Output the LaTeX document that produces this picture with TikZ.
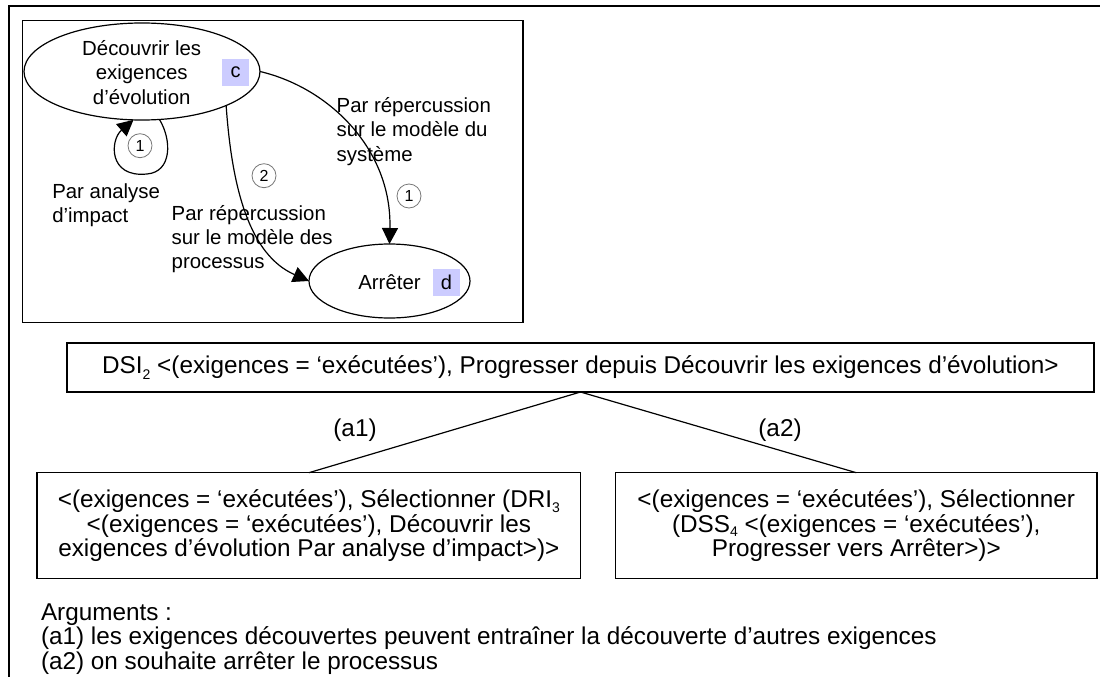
\documentclass[tikz,border=0pt]{standalone}
\usepackage{fontspec}
\setmainfont{Liberation Sans}
\usetikzlibrary{arrows.meta,shapes.geometric}
\definecolor{lav}{RGB}{204,204,255}
\definecolor{circgray}{RGB}{120,120,120}
\newcommand{\lowidx}[2][4.5pt]{\raisebox{-#1}[0pt][0pt]{\fontsize{14}{14}\selectfont #2}}
\begin{document}
\begin{tikzpicture}[x=1pt,y=-1pt,
  every node/.style={inner sep=0pt, outer sep=0pt},
  stxt/.style={font=\fontsize{20.4}{24.2}\selectfont},
  btxt/.style={font=\fontsize{24.3}{24.5}\selectfont},
  ell/.style={draw, ellipse, line width=1.2pt},
  tag/.style={fill=lav, minimum width=27pt, minimum height=26.5pt, font=\fontsize{20}{20}\selectfont},
  num/.style={draw=circgray, circle, line width=0.8pt, minimum size=24pt, font=\fontsize{16}{16}\selectfont},
  arr/.style={line width=1.2pt, -{Triangle[length=16pt,width=16pt]}},
  box/.style={draw, line width=1.2pt, btxt, align=center},
  link/.style={line width=1.2pt},
]
\useasboundingbox (0,0) rectangle (1100,677);
% outer frame
\draw[line width=2pt] (8.5,677) -- (8.5,6) -- (1100,6);
% inner frame
\draw[line width=1.5pt] (22.4,20.7) rectangle (523,322.7);

% states
\node[ell, minimum width=236pt, minimum height=97pt] (e1) at (142,71.5) {};
\node[stxt, align=center] (e1t) at (141.7,72.5) {Découvrir les\\exigences\\d’évolution};
\node[tag] (c) at (235.5,72.5) {c};
\node[ell, minimum width=161pt, minimum height=74pt] (e2) at (389.5,281) {};
\node[stxt] (e2t) at (389.5,282) {Arrêter};
\node[tag] (d) at (446.5,282.3) {d};

% transitions
\draw[arr] (e1.east) .. controls (330,88) and (392,150) .. (e2.north);
\draw[arr] (e1.-22.5) .. controls (232,190) and (250,255) .. (e2.west);
\draw[arr] (e1.-70.7) .. controls (172,140) and (172,172) .. (147,174)
   .. controls (108,178) and (110,140) .. (e1.-100.5);

% circled numbers
\node[num] (n1) at (140,145.7) {1};
\node[num] (n2) at (264,175.7) {2};
\node[num] (n3) at (409,196) {1};

% labels
\node[stxt, anchor=base west] (l1) at (52.3,198.7)
  {\begin{tabular}[t]{@{}l@{}}Par analyse\\d’impact\end{tabular}};
\node[stxt, anchor=base west] (l2) at (171.7,220.3)
  {\begin{tabular}[t]{@{}l@{}}Par répercussion\\sur le modèle des\\processus\end{tabular}};
\node[stxt, anchor=base west] (l3) at (336.7,112.7)
  {\begin{tabular}[t]{@{}l@{}}Par répercussion\\sur le modèle du\\système\end{tabular}};

% decision tree
\node[box, minimum width=1027pt, minimum height=49pt] (dsi) at (580.5,367.5)
  {DSI\lowidx[6pt]{2} <(exigences = ‘exécutées’), Progresser depuis Découvrir les exigences d’évolution>};
\node[box, minimum width=543.7pt, minimum height=105.8pt] (lb) at (308.9,525.6)
  {<(exigences = ‘exécutées’), Sélectionner (DRI\lowidx{3}\\<(exigences = ‘exécutées’), Découvrir les\\exigences d’évolution Par analyse d’impact>)>};
\node[box, minimum width=481.5pt, minimum height=105.8pt] (rb) at (856.3,525.6)
  {<(exigences = ‘exécutées’), Sélectionner\\(DSS\lowidx{4} <(exigences = ‘exécutées’),\\Progresser vers Arrêter>)>};
\draw[link] (dsi.south) -- (lb.north);
\draw[link] (dsi.south) -- (rb.north);
\node[btxt] (a1) at (355,430) {(a1)};
\node[btxt] (a2) at (780,430) {(a2)};

% arguments
\node[btxt, anchor=base west] (g0) at (41,620) {Arguments :};
\node[btxt, anchor=base west] (g1) at (41,644.5) {(a1) les exigences découvertes peuvent entraîner la découverte d’autres exigences};
\node[btxt, anchor=base west] (g2) at (41,669) {(a2) on souhaite arrêter le processus};
\end{tikzpicture}
\end{document}
